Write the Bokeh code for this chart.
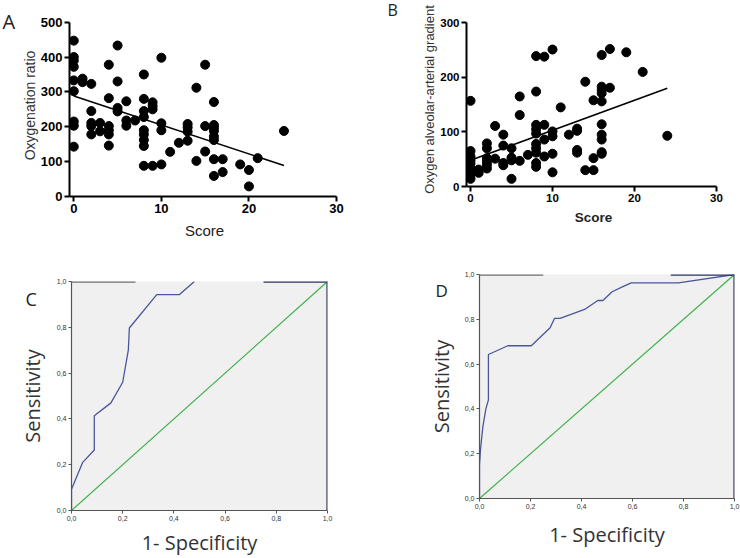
from bokeh.plotting import figure
from bokeh.models import Range1d, FixedTicker, CustomJSTickFormatter, Label
from bokeh.layouts import row, column
from bokeh.embed import file_html
from bokeh.resources import INLINE

# ---------------- data ----------------
# Panel A: score vs oxygenation ratio
a_score = ([0] * 9 + [1] * 2 + [2] * 5 + [3] * 2 + [4] * 6 + [5] * 4 + [6] * 3 + [7] +
           [8] * 9 + [9] * 4 + [10] * 4 + [11] + [12] + [13] * 4 + [14] * 2 + [15] * 3 +
           [16] * 8 + [17] * 2 + [19] + [20] * 2 + [21] + [24])
a_ratio = [447, 400, 390, 372, 333, 302, 215, 203, 143,
           338, 328,
           323, 245, 211, 202, 178,
           211, 187,
           378, 282, 202, 190, 178, 146,
           433, 330, 254, 244,
           273, 218, 203,
           218,
           350, 280, 245, 228, 190, 178, 162, 145, 88,
           270, 260, 250, 88,
           398, 210, 190, 92,
           128,
           154,
           208, 198, 186, 160,
           312, 102,
           378, 202, 129,
           271, 205, 197, 188, 172, 162, 107, 59,
           107, 70,
           92,
           76, 29,
           110,
           188]
fit_a_x = [0, 24]
fit_a_y = [288, 89]

# Panel B: score vs alveolar-arterial gradient
b_score = ([0] * 9 + [1] * 2 + [2] * 6 + [3] * 2 + [4] * 4 + [5] * 4 + [6] * 3 + [7] +
           [8] * 10 + [9] * 4 + [10] * 5 + [11] + [12] + [13] * 4 + [14] * 2 + [15] * 3 +
           [16] * 10 + [17] * 2 + [19] + [21] + [24])
b_grad = [157, 65, 55, 48, 42, 34, 27, 21, 14,
          31, 25,
          79, 70, 52, 46, 40, 33,
          111, 51,
          95, 75, 43, 39,
          70, 53, 48, 14,
          165, 131, 47,
          58,
          239, 174, 113, 105, 97, 78, 70, 62, 43, 36,
          238, 113, 86, 55,
          251, 101, 92, 60, 26,
          145,
          95,
          106, 102, 67, 62,
          192, 30,
          158, 52, 30,
          241, 183, 177, 171, 156, 114, 95, 86, 63, 60,
          252, 181,
          246,
          210,
          93]
fit_b_x = [0, 24]
fit_b_y = [48, 180]

score_ticks = [0, 10, 20, 30]
a_ticks = [0, 100, 200, 300, 400, 500]
b_ticks = [0, 100, 200, 300]

# Panel C ROC
roc_c_fpr = [0, 0, 0.043, 0.089, 0.089, 0.154, 0.2, 0.222, 0.226, 0.333, 0.422, 0.48]
roc_c_tpr = [0, 0.093, 0.209, 0.264, 0.414, 0.47, 0.56, 0.70, 0.797, 0.943, 0.943, 1.0]

# Panel D ROC
roc_d_fpr = [0, 0, 0.004, 0.013, 0.025, 0.035, 0.035, 0.111, 0.203, 0.277, 0.294, 0.316,
             0.412, 0.464, 0.484, 0.52, 0.56, 0.595, 0.78, 1.0]
roc_d_tpr = [0, 0.15, 0.22, 0.32, 0.40, 0.44, 0.643, 0.682, 0.682, 0.762, 0.804, 0.804,
             0.844, 0.884, 0.884, 0.923, 0.945, 0.963, 0.963, 1.0]

ref_line = [0, 1]
roc_ticks = [0, 0.2, 0.4, 0.6, 0.8, 1.0]
frame_top_gray = [0, 0.25]
frame_top_dark = [0.75, 1.0]

ROC_BLUE = "#4a5698"
ROC_GREEN = "#3fb24a"
GRAY_BG = "#f0f0f0"


def scatter_panel(xs, ys, fx, fy, yticks, x_rng, y_rng, borders, width, height,
                  ylabel, xlabel_bold, tick_size, xl_size, yl_size, xl_standoff, yl_standoff):
    p = figure(width=width, height=height, x_range=Range1d(*x_rng), y_range=Range1d(*y_rng),
               output_backend="svg", toolbar_location=None,
               min_border_left=borders[0], min_border_right=borders[1],
               min_border_top=borders[2], min_border_bottom=borders[3])
    p.outline_line_color = None
    p.grid.visible = False
    p.scatter(xs, ys, size=9, color="black")
    p.line(fx, fy, line_width=1.6, color="black")
    for ax in (p.xaxis[0], p.yaxis[0]):
        ax.axis_line_width = 2
        ax.axis_line_color = "black"
        ax.major_tick_line_width = 2
        ax.major_tick_line_color = "black"
        ax.major_tick_out = 5
        ax.major_tick_in = 0
        ax.minor_tick_line_color = None
        ax.major_label_text_font = "Liberation Sans"
        ax.major_label_text_font_style = "bold"
        ax.major_label_text_font_size = tick_size
        ax.major_label_text_color = "black"
        ax.major_label_standoff = 2
    p.xaxis.bounds = (x_rng[0], score_ticks[-1])
    p.xaxis.ticker = FixedTicker(ticks=score_ticks)
    p.yaxis.bounds = (yticks[0], yticks[-1])
    p.yaxis.ticker = FixedTicker(ticks=yticks)
    p.xaxis.axis_label = "Score"
    p.xaxis.axis_label_text_font = "Liberation Sans"
    p.xaxis.axis_label_text_font_style = "bold" if xlabel_bold else "normal"
    p.xaxis.axis_label_text_font_size = xl_size
    p.xaxis.axis_label_text_color = "#222222"
    p.xaxis.axis_label_standoff = xl_standoff
    p.yaxis.axis_label = ylabel
    p.yaxis.axis_label_text_font = "Liberation Sans"
    p.yaxis.axis_label_text_font_style = "normal"
    p.yaxis.axis_label_text_font_size = yl_size
    p.yaxis.axis_label_text_color = "#333333"
    p.yaxis.axis_label_standoff = yl_standoff
    return p


def roc_panel(fpr, tpr, borders, width, height, xl_standoff, yl_standoff):
    p = figure(width=width, height=height, x_range=Range1d(0, 1), y_range=Range1d(0, 1),
               output_backend="svg", toolbar_location=None,
               min_border_left=borders[0], min_border_right=borders[1],
               min_border_top=borders[2], min_border_bottom=borders[3])
    p.outline_line_color = None
    p.grid.visible = False
    p.background_fill_color = GRAY_BG
    p.line(ref_line, ref_line, color=ROC_GREEN, line_width=1.2)
    p.line(fpr, tpr, color=ROC_BLUE, line_width=1.3)
    p.line(frame_top_gray, [1, 1], color="#707070", line_width=2.4)
    p.line(frame_top_dark, [1, 1], color="#2f3560", line_width=2.4)
    p.line([1, 1], [0, 1], color="#454a70", line_width=2.4)
    for ax in (p.xaxis[0], p.yaxis[0]):
        ax.ticker = FixedTicker(ticks=roc_ticks)
        ax.formatter = CustomJSTickFormatter(code="return tick.toFixed(1).replace('.', ',');")
        ax.axis_line_color = "#555555"
        ax.axis_line_width = 1.2
        ax.major_tick_line_color = "#555555"
        ax.major_tick_out = 3
        ax.major_tick_in = 0
        ax.minor_tick_line_color = None
        ax.major_label_text_font = "Liberation Sans"
        ax.major_label_text_font_size = "7px"
        ax.major_label_text_color = "#333333"
        ax.major_label_standoff = 2
        ax.axis_label_text_font = "Open Sans"
        ax.axis_label_text_font_style = "normal"
        ax.axis_label_text_font_size = "20px"
        ax.axis_label_text_color = "#333333"
    p.xaxis.axis_label = "1- Specificity"
    p.xaxis.axis_label_standoff = xl_standoff
    p.yaxis.axis_label = "Sensitivity"
    p.yaxis.axis_label_standoff = yl_standoff
    return p


def letter(p, txt, x, y, size):
    # placed in the plot's left side panel, in canvas pixels
    p.add_layout(Label(x=x, y=y, x_units="canvas", y_units="canvas", text=txt,
                       text_font="Open Sans", text_font_size=size, text_color="#222222",
                       text_baseline="alphabetic"), "left")


pA = scatter_panel(a_score, a_ratio, fit_a_x, fit_a_y, a_ticks,
                   (-0.49, 30.34), (0, 522), (69, 31, 14, 46), 370, 242,
                   "Oxygenation ratio", False, "13px", "15px", "14px", 6, 0)
pB = scatter_panel(b_score, b_grad, fit_b_x, fit_b_y, b_ticks,
                   (-0.49, 30.49), (0, 318.9), (96, 20, 12, 56), 370, 242,
                   "Oxygen alveolar-arterial gradient", True, "11.5px", "13.5px", "13px", 5, 0)
pC = roc_panel(roc_c_fpr, roc_c_tpr, (71, 43, 39, 47), 370, 316, 5, 8)
pD = roc_panel(roc_d_fpr, roc_d_tpr, (109, 6, 32, 60), 370, 316, 9, 7)

letter(pA, "A", 2, 21, "20px")
letter(pB, "B", 17, 9, "16px")
letter(pC, "C", 25, 56, "18px")
letter(pD, "D", 65, 48, "17px")

layout = column(row(column(pA), column(pB)), row(column(pC), column(pD)))
open("out.html", "w").write(file_html(layout, INLINE))
